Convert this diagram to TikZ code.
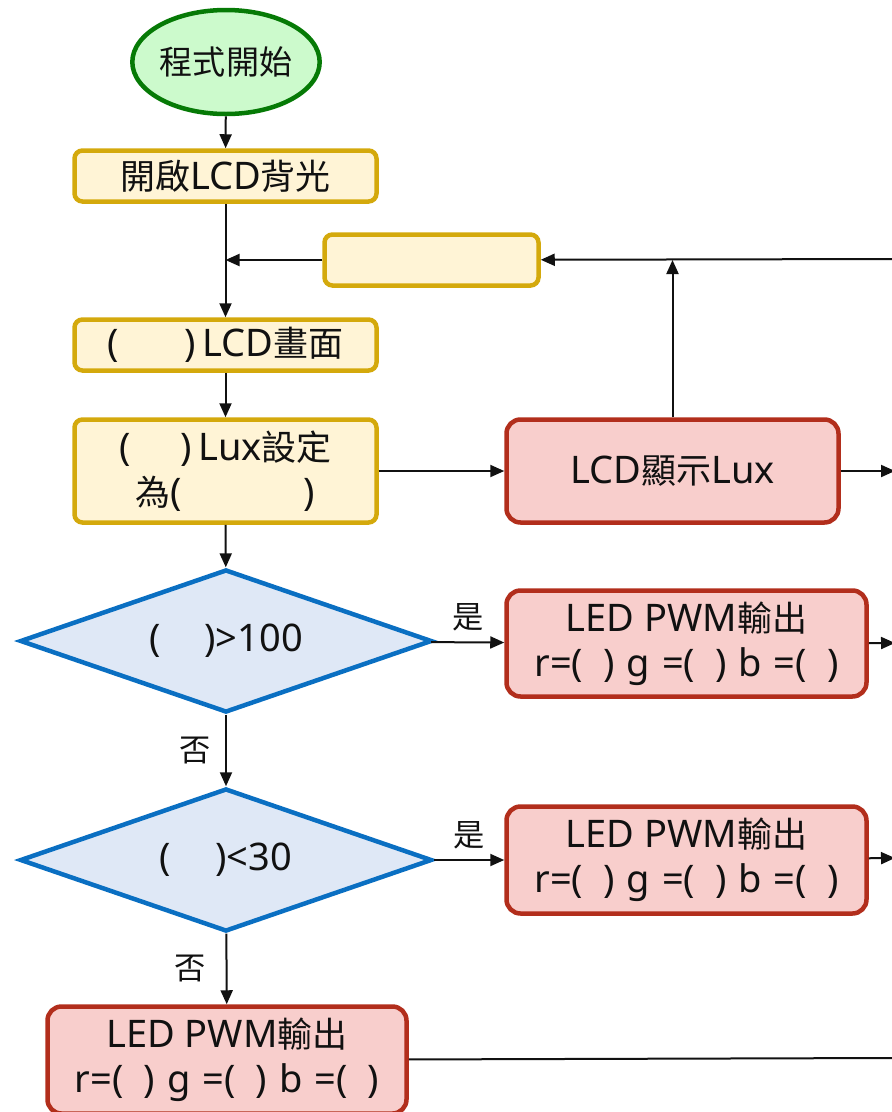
\documentclass[tikz,border=0pt]{standalone}
\usepackage{fontspec}
\setmainfont{Noto Sans}
\newfontfamily\zhfont{Noto Sans CJK TC}[Scale=0.92]
\usetikzlibrary{positioning,arrows.meta,shapes.geometric}
\definecolor{ink}{HTML}{111111}
\definecolor{gfill}{HTML}{CCFACC}
\definecolor{gline}{HTML}{067A06}
\definecolor{yfill}{HTML}{FFF4D6}
\definecolor{yline}{HTML}{D4A90C}
\definecolor{rfill}{HTML}{F8CECC}
\definecolor{rline}{HTML}{B22E1C}
\definecolor{bfill}{HTML}{DFE8F6}
\definecolor{bline}{HTML}{0A6FC2}
\newcommand{\zh}[1]{{\zhfont #1}}
\newcommand{\gap}[1]{\hspace{#1pt}}
\tikzset{
  txt/.style={font=\fontsize{38}{45}\selectfont, text=ink, align=center, inner sep=0pt},
  term/.style={txt, font=\fontsize{36}{42}\selectfont, draw=gline, line width=4.5pt, fill=gfill,
               ellipse, minimum width=182pt, minimum height=104pt},
  proc/.style={txt, draw=yline, line width=4.5pt, fill=yfill, rounded corners=8pt,
               minimum width=302pt, minimum height=51pt},
  procr/.style={txt, draw=rline, line width=4.5pt, fill=rfill, rounded corners=14pt,
                minimum width=332pt, minimum height=103pt},
  cond/.style={txt, draw=bline, line width=4.5pt, fill=bfill, diamond, aspect=2.84,
               minimum width=412pt, minimum height=143pt},
  flow/.style={-{Triangle[length=14pt,width=12pt]}, line width=2pt, draw=ink},
  wire/.style={line width=2pt, draw=ink},
  yesno/.style={font=\zhfont\fontsize{34}{36}\selectfont, text=ink, inner sep=2pt},
}

\begin{document}
\begin{tikzpicture}[x=1pt, y=-1pt, node distance=5mm]
  \useasboundingbox (0,0) rectangle (892,1112);
  % Start and setup
  \node[term] (start) at (226,62) {\zh{程式開始}};
  \node[proc] (backlight) at (225.5,176) {\zh{開啟}LCD\zh{背光}};
  \node[proc, minimum width=214pt] (loopbox) at (431.5,260) {};
  \node[proc] (clear) at (225.5,345) {(\gap{66})\,LCD\zh{畫面}};
  \node[proc, minimum height=103pt] (setlux) at (225.5,471)
    {(\gap{50})\,Lux\zh{設定}\\\zh{為}(\gap{122})};
  \node[procr] (showlux) at (672.5,471) {LCD\zh{顯示}Lux};
  % Decisions
  \node[cond] (bright) at (226,641) {(\gap{44})>100};
  \node[cond] (dark) at (226,860) {(\gap{44})<30};
  % LED outputs
  \node[procr, minimum width=360pt, minimum height=106pt] (ledhi) at (686.5,643.5)
    {LED PWM\zh{輸出}\\r=(\gap{20})\gap{12}g\gap{12}=(\gap{20})\gap{12}b\gap{12}=(\gap{20})};
  \node[procr, minimum width=360pt, minimum height=107pt] (ledlo) at (686.5,860)
    {LED PWM\zh{輸出}\\r=(\gap{20})\gap{12}g\gap{12}=(\gap{20})\gap{12}b\gap{12}=(\gap{20})};
  \node[procr, minimum width=359pt, minimum height=107pt] (ledmid) at (227,1060)
    {LED PWM\zh{輸出}\\r=(\gap{20})\gap{12}g\gap{12}=(\gap{20})\gap{12}b\gap{12}=(\gap{20})};
  % free ends at the right border
  \coordinate (join) at (backlight.south |- loopbox.west);
  \coordinate (back) at (895,259);
  \coordinate (outlux) at (895,471);
  \coordinate (outhi) at (895,643);
  \coordinate (outlo) at (895,858);
  \coordinate (outmid) at (892,1058);
  % main flow
  \draw[flow] (start) -- (backlight);
  \draw[flow] (backlight) -- (clear);
  \draw[flow] (loopbox) -- (join);
  \draw[flow] (back) -- (loopbox);
  \draw[flow] (showlux.north) -- (showlux.north |- loopbox.east);
  \draw[flow] (clear) -- (setlux);
  \draw[flow] (setlux) -- (showlux);
  \draw[flow] (showlux) -- (outlux);
  \draw[flow] (setlux) -- (bright);
  \draw[flow] (bright) -- node[yesno, above=8pt]{是} (ledhi);
  \draw[flow] (bright) -- node[yesno, left=12pt]{否} (dark);
  \draw[flow] (dark) -- node[yesno, above=8pt]{是} (ledlo);
  \draw[flow] (dark) -- node[yesno, left=18pt]{否} (ledmid);
  \draw[flow] (ledhi) -- (outhi);
  \draw[flow] (ledlo) -- (outlo);
  \draw[wire] (ledmid) -- (outmid);
\end{tikzpicture}
\end{document}
